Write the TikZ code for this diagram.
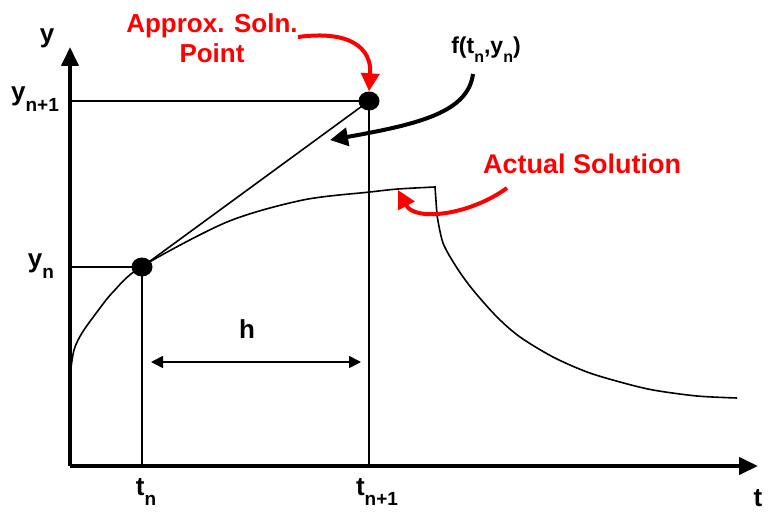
\documentclass[tikz,border=0pt]{standalone}
\usepackage{fontspec}
\setmainfont{Liberation Sans}
\usepackage{xcolor}
\usetikzlibrary{arrows.meta,positioning,calc,shapes.geometric}
\definecolor{SolnRed}{HTML}{FF0000}
\newcommand{\lowidx}[2][19]{\raisebox{-0.75ex}{\fontsize{#1}{#1}\selectfont #2}}

\begin{document}
\begin{tikzpicture}[
  x=1pt, y=-1pt,
  lbl/.style={font=\bfseries\fontsize{26}{30}\selectfont,inner sep=0pt},
  redlbl/.style={lbl,text=SolnRed,align=center},
  thinline/.style={line width=1.6pt},
  axis/.style={line width=4pt,-{Triangle[length=19pt,width=17pt]}},
  dot/.style={ellipse,fill=black,minimum width=21pt,minimum height=19pt,inner sep=0pt},
  pointer/.style={line width=4pt,-{Triangle[length=18pt,width=18pt]}}
]
  \useasboundingbox (0,0) rectangle (770,513);

  % axes
  \coordinate (O) at (70,466);
  \coordinate (ytip) at (70,47);
  \coordinate (ttip) at (758,466);
  \draw[axis] (O) -- (ytip);
  \draw[axis] (O) -- (ttip);
  \node[lbl] (ylab) at (47,38) {y};
  \node[lbl] (tlab) at (758,498) {t};

  % exact curve
  \draw[thinline] plot[smooth,tension=0.5] coordinates {(70,375) (74,350) (82,333) (97,312) (113,292) (141,267) (227,222) (303,200) (370,192) (398,189) (435,187)}
    -- plot[smooth,tension=0.5] coordinates {(437,215) (443,243) (457,268) (473,290) (497,317) (520,337) (553,357) (587,372) (620,382) (653,390) (697,396) (737,398)};

  % points
  \node[dot] (pn) at (142,267) {};
  \node[dot] (pn1) at (369,101) {};
  \draw[thinline] (pn.center) -- (pn.center -| O);
  \draw[thinline] (pn1.center) -- (pn1.center -| O);
  \draw[thinline] (pn.center) -- (pn.center |- O);
  \draw[thinline] (pn1.center) -- (pn1.center |- O);
  \draw[thinline] (pn.center) -- (pn1.center);

  \node[lbl] (yn1) at (35,99) {y\lowidx{n+1}};
  \node[lbl] (yn) at (41,266) {y\lowidx{n}};
  \node[lbl] (tn) at (146,492) {t\lowidx{n}};
  \node[lbl] (tn1) at (377,492) {t\lowidx{n+1}};

  % step size
  \coordinate (hl) at (151,362);
  \coordinate (hr) at (361,362);
  \draw[thinline,{Triangle[length=12pt,width=12pt]}-{Triangle[length=12pt,width=12pt]}] (hl) -- (hr);
  \node[lbl] (h) at (247,329) {h};

  % slope
  \node[lbl,font=\bfseries\fontsize{23}{26}\selectfont] (slope) at (486,50) {f(t\lowidx[16]{n},y\lowidx[16]{n})};
  \coordinate (slopetail) at (473,74);
  \coordinate (slopetip) at (330,140);
  \draw[pointer] (slopetail) .. controls (468,112) and (420,124) .. (slopetip);

  % red callouts
  \node[redlbl] (approx) at (212,38) {Approx. Soln.\\Point};
  \coordinate (apxtail) at (298,37);
  \draw[pointer,SolnRed] (apxtail) .. controls (350,30) and (372,48) .. (pn1.north);

  \node[redlbl,font=\bfseries\fontsize{27}{30}\selectfont] (actual) at (582,164) {Actual Solution};
  \coordinate (acttail) at (507,188);
  \coordinate (acttip) at (398,190);
  \draw[pointer,SolnRed] (acttail) .. controls (470,215) and (415,222) .. (acttip);
\end{tikzpicture}
\end{document}
